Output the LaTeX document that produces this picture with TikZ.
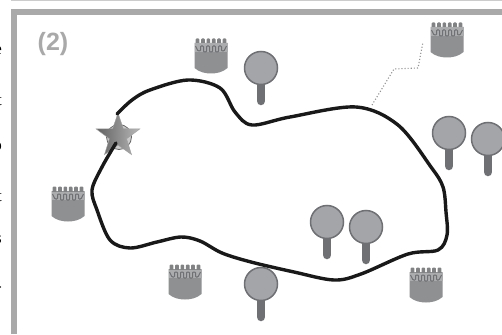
\documentclass[tikz,border=0pt]{standalone}
\usepackage{fontspec}
\setmainfont{Liberation Serif}
\setsansfont{Liberation Sans}
\usepackage{tikz}
\usetikzlibrary{shapes,positioning,calc}

\definecolor{framegray}{HTML}{A9A9A9}
\definecolor{headgray}{HTML}{A3A5A8}
\definecolor{edgegray}{HTML}{6E7073}
\definecolor{towergray}{HTML}{8F9092}

\begin{document}
\begin{tikzpicture}[
    x=1pt, y=-1pt,
    route/.style={line width=3.4pt, black!90, line cap=round, line join=round},
    head/.style={circle, draw=edgegray, fill=headgray, line width=1.5pt, minimum size=33pt, inner sep=0pt},
    stem/.style={line width=8.5pt, edgegray, line cap=round},
    sensor/.pic={
        \draw[stem] (0,14) -- (0,33);
        \node[head] at (0,0) {};
    },
    castle/.pic={
        \fill[towergray] (-16.5,-13) -- (-16.5,12) .. controls (-12,16) and (-6,17.5) .. (0,17.5)
            .. controls (6,17.5) and (12,16) .. (16.5,12) -- (16.5,-13) -- cycle;
        \foreach \tx in {-13.5,-8,-2.7,2.7,8,13.5}
            \fill[towergray!90!black, rounded corners=1pt] (\tx-1.8,-17.5) rectangle (\tx+1.8,-10);
        \fill[towergray!75!white] (-16.5,-12.5) -- (16.5,-12.5) -- (16.5,-4) -- (-16.5,-4) -- cycle;
        \draw[edgegray, line width=1pt, rounded corners=0.8pt]
            (-15.5,-10) -- (-13,-5) -- (-10.5,-5) -- (-10.5,-10) -- (-7.5,-10) -- (-7.5,-4) -- (-4.5,-4) -- (-4.5,-10)
            -- (-1.5,-10) -- (-1.5,-4) -- (1.5,-4) -- (1.5,-10) -- (4.5,-10) -- (4.5,-4) -- (7.5,-4) -- (7.5,-10)
            -- (10.5,-10) -- (10.5,-5) -- (13,-5) -- (15.5,-10);
    }
]
    \useasboundingbox (0,0) rectangle (502,334);
    \clip (0,0) rectangle (502,334);
    \fill[white] (0,0) rectangle (502,334);

    % Frame
    \draw[black!20, line width=1.5pt] (11,0.5) -- (502,0.5);
    \draw[framegray, line width=6pt] (14,334) -- (14,12) -- (502,12);
    \node[font=\sffamily\bfseries\fontsize{25}{25}\selectfont, text=framegray] (tag) at (53,44) {(2)};

    % Clipped text of the column beside the frame
    \foreach \ty/\tc in {55/e, 106/t, 150/o, 201/t, 243/s, 291/-}
        \node[anchor=base east, inner sep=0pt, font=\fontsize{17}{17}\selectfont] at (2,\ty) {\tc};

    % Castles
    \pic (castleA) at (211,56) {castle};
    \pic (castleB) at (447,40) {castle};
    \pic (castleC) at (68,204) {castle};
    \pic (castleD) at (185,282) {castle};
    \pic (castleE) at (426,285) {castle};

    % Sensors
    \pic (sensorA) at (261,68) {sensor};
    \pic (sensorB) at (449,133) {sensor};
    \pic (sensorC) at (488,139) {sensor};
    \pic (sensorD) at (327,222) {sensor};
    \pic (sensorE) at (366,227) {sensor};
    \pic (sensorF) at (261,284) {sensor};

    % Start marker
    \filldraw[fill=gray!40, draw=gray!80!black, line width=0.8pt] (119,137) circle (12.5);
    \node[star, star points=5, star point ratio=2.55, minimum size=46pt, inner sep=0pt,
          draw=gray!75, left color=gray!75!black, right color=gray!55] (start) at (118,136) {};

    % Route
    \draw[route] plot[smooth, tension=0.55] coordinates {
        (117,114) (132,100) (150,90) (188,80) (220,88) (235,112) (252,125) (290,117) (356,107)
        (398,125) (431,167) (443,187) (446,212) (447,235) (438,250) (408,254) (361,274)
        (334,280) (294,272) (251,262) (222,253) (200,241) (181,237) (157,242) (130,248) (110,240)
        (97,210) (92,190) (102,167) (116,143)};

    % Dotted link
    \coordinate (linkA) at (372,105);
    \coordinate (linkB) at (394,69);
    \coordinate (linkC) at (418,68);
    \coordinate (linkD) at (423,42);
    \draw[gray!85, dotted, line width=1.1pt] (linkA) -- (linkB) -- (linkC) -- (linkD);
\end{tikzpicture}
\end{document}
